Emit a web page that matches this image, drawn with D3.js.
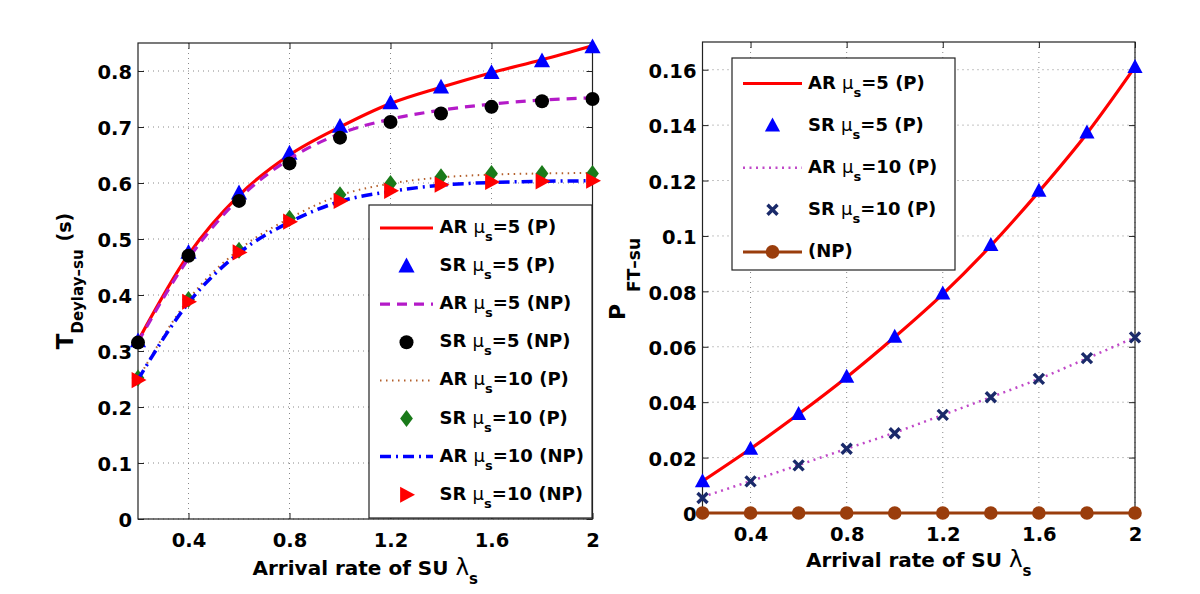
<!DOCTYPE html>
<html>
<head>
<meta charset="utf-8">
<script src="https://cdnjs.cloudflare.com/ajax/libs/d3/7.8.5/d3.min.js"></script>
<style>
  body { margin: 0; background: #fff; }
  text { font-family: "DejaVu Sans", sans-serif; font-weight: bold; fill: #000; }
</style>
</head>
<body>
<div id="chart"></div>
<script>
// arrival rate of SU (x values shared by every series)
var lambdaVals = [0.2, 0.4, 0.6, 0.8, 1.0, 1.2, 1.4, 1.6, 1.8, 2.0];

// left panel: delay of SU
var arP5 = [0.318, 0.472, 0.578, 0.650, 0.700, 0.742, 0.771, 0.797, 0.820, 0.845];
var srP5 = [0.318, 0.476, 0.582, 0.653, 0.701, 0.743, 0.771, 0.797, 0.818, 0.843];
var arNP5 = [0.316, 0.465, 0.572, 0.643, 0.688, 0.714, 0.730, 0.741, 0.748, 0.752];
var srNP5 = [0.315, 0.470, 0.568, 0.635, 0.681, 0.709, 0.724, 0.736, 0.746, 0.750];
var arP10 = [0.250, 0.392, 0.481, 0.537, 0.578, 0.599, 0.610, 0.615, 0.617, 0.618];
var srP10 = [0.252, 0.392, 0.480, 0.537, 0.579, 0.599, 0.611, 0.617, 0.617, 0.617];
var arNP10 = [0.249, 0.386, 0.475, 0.530, 0.567, 0.585, 0.596, 0.601, 0.603, 0.604];
var srNP10 = [0.248, 0.388, 0.476, 0.531, 0.568, 0.586, 0.597, 0.602, 0.603, 0.604];

// right panel: forced termination probability of SU
var pArP5 = [0.0115, 0.0232, 0.0357, 0.0490, 0.0635, 0.0790, 0.0965, 0.1160, 0.1370, 0.1610];
var pSrP5 = [0.0115, 0.0232, 0.0357, 0.0492, 0.0636, 0.0792, 0.0967, 0.1163, 0.1373, 0.1610];
var pArP10 = [0.0058, 0.0115, 0.0173, 0.0232, 0.0290, 0.0354, 0.0418, 0.0484, 0.0558, 0.0634];
var pSrP10 = [0.0054, 0.0114, 0.0172, 0.0232, 0.0288, 0.0354, 0.0418, 0.0484, 0.0559, 0.0634];
var pNP = [0, 0, 0, 0, 0, 0, 0, 0, 0, 0];

// tick labels
var xTicks = [0.4, 0.8, 1.2, 1.6, 2];
var leftYTicks = [0, 0.1, 0.2, 0.3, 0.4, 0.5, 0.6, 0.7, 0.8];
var rightYTicks = [0, 0.02, 0.04, 0.06, 0.08, 0.1, 0.12, 0.14, 0.16];

var svg = d3.select("#chart")
    .append("svg")
    .attr("width", 1200)
    .attr("height", 594);

svg.append("rect").attr("width", 1200).attr("height", 594).attr("fill", "#fff");

// marker shapes
function markerPath(type, s) {
    if (type === "triUp") return `M0,${-s}L${s * 0.95},${s * 0.75}L${-s * 0.95},${s * 0.75}Z`;
    if (type === "triRight") return `M${s},0L${-s * 0.75},${s * 0.95}L${-s * 0.75},${-s * 0.95}Z`;
    if (type === "diamond") return `M0,${-s}L${s * 0.75},0L0,${s}L${-s * 0.75},0Z`;
    return "";
}

function drawMarkers(g, xs, ys, values, m) {
    var pts = g.append("g").selectAll("g")
        .data(values)
        .enter()
        .append("g")
        .attr("transform", (d, i) => `translate(${xs(lambdaVals[i])},${ys(d)})`);
    addMarker(pts, m);
}

function addMarker(sel, m) {
    if (m.type === "circle") {
        sel.append("circle").attr("r", m.size).attr("fill", m.color);
    } else if (m.type === "cross") {
        sel.append("path")
            .attr("d", `M${-m.size},${-m.size}L${m.size},${m.size}M${-m.size},${m.size}L${m.size},${-m.size}`)
            .attr("stroke", m.color)
            .attr("stroke-width", 3.4)
            .attr("fill", "none");
    } else {
        sel.append("path").attr("d", markerPath(m.type, m.size)).attr("fill", m.color);
    }
}

function drawLine(g, xs, ys, values, st) {
    var line = d3.line()
        .x((d, i) => xs(lambdaVals[i]))
        .y(d => ys(d))
        .curve(d3.curveMonotoneX);
    g.append("path")
        .datum(values)
        .attr("d", line)
        .attr("fill", "none")
        .attr("stroke", st.color)
        .attr("stroke-width", st.width)
        .attr("stroke-dasharray", st.dash || null);
}

// axes, grid and box for one panel
function drawFrame(p, yTicks, fmt) {
    var g = p.g;
    var w = p.x1 - p.x0, h = p.y1 - p.y0;

    // grid
    g.append("g").selectAll("line")
        .data(xTicks).enter().append("line")
        .attr("x1", d => p.xs(d) - p.x0).attr("x2", d => p.xs(d) - p.x0)
        .attr("y1", 0).attr("y2", h)
        .attr("stroke", "#888").attr("stroke-width", 1).attr("stroke-dasharray", "1,4");
    g.append("g").selectAll("line")
        .data(yTicks).enter().append("line")
        .attr("x1", 0).attr("x2", w)
        .attr("y1", d => p.ys(d) - p.y0).attr("y2", d => p.ys(d) - p.y0)
        .attr("stroke", "#888").attr("stroke-width", 1).attr("stroke-dasharray", "1,4");

    var xsLocal = p.xs.copy().range([0, w]);
    var ysLocal = p.ys.copy().range([h, 0]);

    var bottomAxis = d3.axisBottom(xsLocal).tickValues(xTicks).tickSize(-6).tickPadding(14)
        .tickFormat(d => String(d));
    var topAxis = d3.axisTop(xsLocal).tickValues(xTicks).tickSize(-6).tickFormat("");
    var leftAxis = d3.axisLeft(ysLocal).tickValues(yTicks).tickSize(-6).tickPadding(6)
        .tickFormat(fmt);
    var rightAxis = d3.axisRight(ysLocal).tickValues(yTicks).tickSize(-6).tickFormat("");

    var axes = [
        g.append("g").attr("transform", `translate(0,${h})`).call(bottomAxis),
        g.append("g").call(topAxis),
        g.append("g").call(leftAxis),
        g.append("g").attr("transform", `translate(${w},0)`).call(rightAxis)
    ];
    axes.forEach(a => {
        a.select(".domain").remove();
        a.selectAll("line").attr("stroke", "#222");
        a.selectAll("text")
            .attr("font-family", "DejaVu Sans")
            .attr("font-weight", "bold")
            .attr("font-size", 19.5)
            .attr("fill", "#000");
    });
    axes[2].selectAll("text").attr("dy", "0.4em");

    g.append("rect")
        .attr("width", w).attr("height", h)
        .attr("fill", "none").attr("stroke", "#222").attr("stroke-width", 1.2);
}

// legend label "AR μs=5 (P)"
function legendLabel(t, pre, post) {
    t.append("tspan").text(pre);
    if (post !== null) {
        t.append("tspan").text("\u03bc").attr("font-weight", "normal");
        t.append("tspan").text("s").attr("font-size", 13).attr("dy", 8);
        t.append("tspan").text(post).attr("dy", -8);
    }
}

function drawLegend(box, entries) {
    var lg = svg.append("g");
    lg.append("rect")
        .attr("x", box.x).attr("y", box.y)
        .attr("width", box.w).attr("height", box.h)
        .attr("fill", "#fff").attr("stroke", "#222").attr("stroke-width", 1.2);
    entries.forEach((e, i) => {
        var cy = box.firstY + i * box.step;
        if (e.line) {
            lg.append("line")
                .attr("x1", box.lineX0).attr("x2", box.lineX1)
                .attr("y1", cy).attr("y2", cy)
                .attr("stroke", e.line.color)
                .attr("stroke-width", e.line.width)
                .attr("stroke-dasharray", e.line.dash || null);
        }
        if (e.marker) {
            var mg = lg.append("g").attr("transform", `translate(${(box.lineX0 + box.lineX1) / 2},${cy})`);
            addMarker(mg, e.marker);
        }
        var t = lg.append("text")
            .attr("x", box.textX)
            .attr("y", cy + 5)
            .attr("font-size", 18);
        legendLabel(t, e.pre, e.post);
    });
}

// ---------------- left panel ----------------
var left = { x0: 138, x1: 592.5, y0: 43, y1: 519 };
left.xs = d3.scaleLinear().domain([0.2, 2]).range([left.x0, left.x1]);
left.ys = d3.scaleLinear().domain([0, 0.85]).range([left.y1, left.y0]);
left.g = svg.append("g").attr("transform", `translate(${left.x0},${left.y0})`);
drawFrame(left, leftYTicks, d => String(d));

var plotL = svg.append("g");
var stRed = { color: "#ff0000", width: 3.2 };
var stMag = { color: "#b41ac8", width: 3.2, dash: "10,7" };
var stBrown = { color: "#b4602c", width: 2, dash: "1.5,4.5" };
var stBlueDD = { color: "#0000ff", width: 3.5, dash: "11,5,2,5" };
var mTri = { type: "triUp", size: 8.5, color: "#0000ff" };
var mBlack = { type: "circle", size: 7, color: "#000" };
var mDia = { type: "diamond", size: 8.5, color: "#1a7a1a" };
var mTriR = { type: "triRight", size: 8.5, color: "#ff0000" };

drawLine(plotL, left.xs, left.ys, arP5, stRed);
drawMarkers(plotL, left.xs, left.ys, srP5, mTri);
drawLine(plotL, left.xs, left.ys, arNP5, stMag);
drawMarkers(plotL, left.xs, left.ys, srNP5, mBlack);
drawLine(plotL, left.xs, left.ys, arP10, stBrown);
drawMarkers(plotL, left.xs, left.ys, srP10, mDia);
drawLine(plotL, left.xs, left.ys, arNP10, stBlueDD);
drawMarkers(plotL, left.xs, left.ys, srNP10, mTriR);

drawLegend(
    { x: 369, y: 205, w: 223, h: 313, firstY: 228, step: 38.1, lineX0: 380, lineX1: 433, textX: 439.5 },
    [
        { line: stRed, pre: "AR ", post: "=5 (P)" },
        { marker: mTri, pre: "SR ", post: "=5 (P)" },
        { line: stMag, pre: "AR ", post: "=5 (NP)" },
        { marker: mBlack, pre: "SR ", post: "=5 (NP)" },
        { line: stBrown, pre: "AR ", post: "=10 (P)" },
        { marker: mDia, pre: "SR ", post: "=10 (P)" },
        { line: stBlueDD, pre: "AR ", post: "=10 (NP)" },
        { marker: mTriR, pre: "SR ", post: "=10 (NP)" }
    ]
);

// ---------------- right panel ----------------
var right = { x0: 702.5, x1: 1135, y0: 42, y1: 513 };
right.xs = d3.scaleLinear().domain([0.2, 2]).range([right.x0, right.x1]);
right.ys = d3.scaleLinear().domain([0, 0.17]).range([right.y1, right.y0]);
right.g = svg.append("g").attr("transform", `translate(${right.x0},${right.y0})`);
drawFrame(right, rightYTicks, d => String(+d.toFixed(2)));

var plotR = svg.append("g");
var stMagDot = { color: "#c048c8", width: 2.5, dash: "2,4.5" };
var stNP = { color: "#9a3d0c", width: 3 };
var mTriR5 = { type: "triUp", size: 8, color: "#0000ff" };
var mCross = { type: "cross", size: 5, color: "#1a2a6a" };
var mNP = { type: "circle", size: 6.8, color: "#9a3d0c" };

drawLine(plotR, right.xs, right.ys, pArP5, stRed);
drawMarkers(plotR, right.xs, right.ys, pSrP5, mTriR5);
drawLine(plotR, right.xs, right.ys, pArP10, stMagDot);
drawMarkers(plotR, right.xs, right.ys, pSrP10, mCross);
drawLine(plotR, right.xs, right.ys, pNP, stNP);
drawMarkers(plotR, right.xs, right.ys, pNP, mNP);

drawLegend(
    { x: 732, y: 58, w: 223, h: 212, firstY: 83.5, step: 42.1, lineX0: 743, lineX1: 802, textX: 808 },
    [
        { line: stRed, pre: "AR ", post: "=5 (P)" },
        { marker: mTriR5, pre: "SR ", post: "=5 (P)" },
        { line: stMagDot, pre: "AR ", post: "=10 (P)" },
        { marker: mCross, pre: "SR ", post: "=10 (P)" },
        { line: stNP, marker: mNP, pre: " (NP)", post: null }
    ]
);

// ---------------- axis titles ----------------
function xTitle(cx, y) {
    var t = svg.append("text")
        .attr("x", cx).attr("y", y)
        .attr("text-anchor", "middle")
        .attr("font-size", 20);
    t.append("tspan").text("Arrival rate of SU ");
    t.append("tspan").text("\u03bb").attr("font-weight", "normal").attr("font-size", 23);
    t.append("tspan").text("s").attr("font-size", 15).attr("dy", 9);
}
xTitle((left.x0 + left.x1) / 2, 575);
xTitle((right.x0 + right.x1) / 2, 567);

var yl = svg.append("text")
    .attr("transform", "translate(73,281) rotate(-90)")
    .attr("text-anchor", "middle")
    .attr("font-size", 23);
yl.append("tspan").text("T");
yl.append("tspan").text("Deylay\u2013su").attr("font-size", 15).attr("dy", 10);
yl.append("tspan").text("(s)").attr("font-size", 19).attr("dy", -12).attr("dx", 8);

var yr = svg.append("text")
    .attr("transform", "translate(625,279) rotate(-90)")
    .attr("text-anchor", "middle")
    .attr("font-size", 22);
yr.append("tspan").text("P");
yr.append("tspan").text("FT\u2013su").attr("font-size", 17).attr("dy", 15).attr("dx", 12);
</script>
</body>
</html>
